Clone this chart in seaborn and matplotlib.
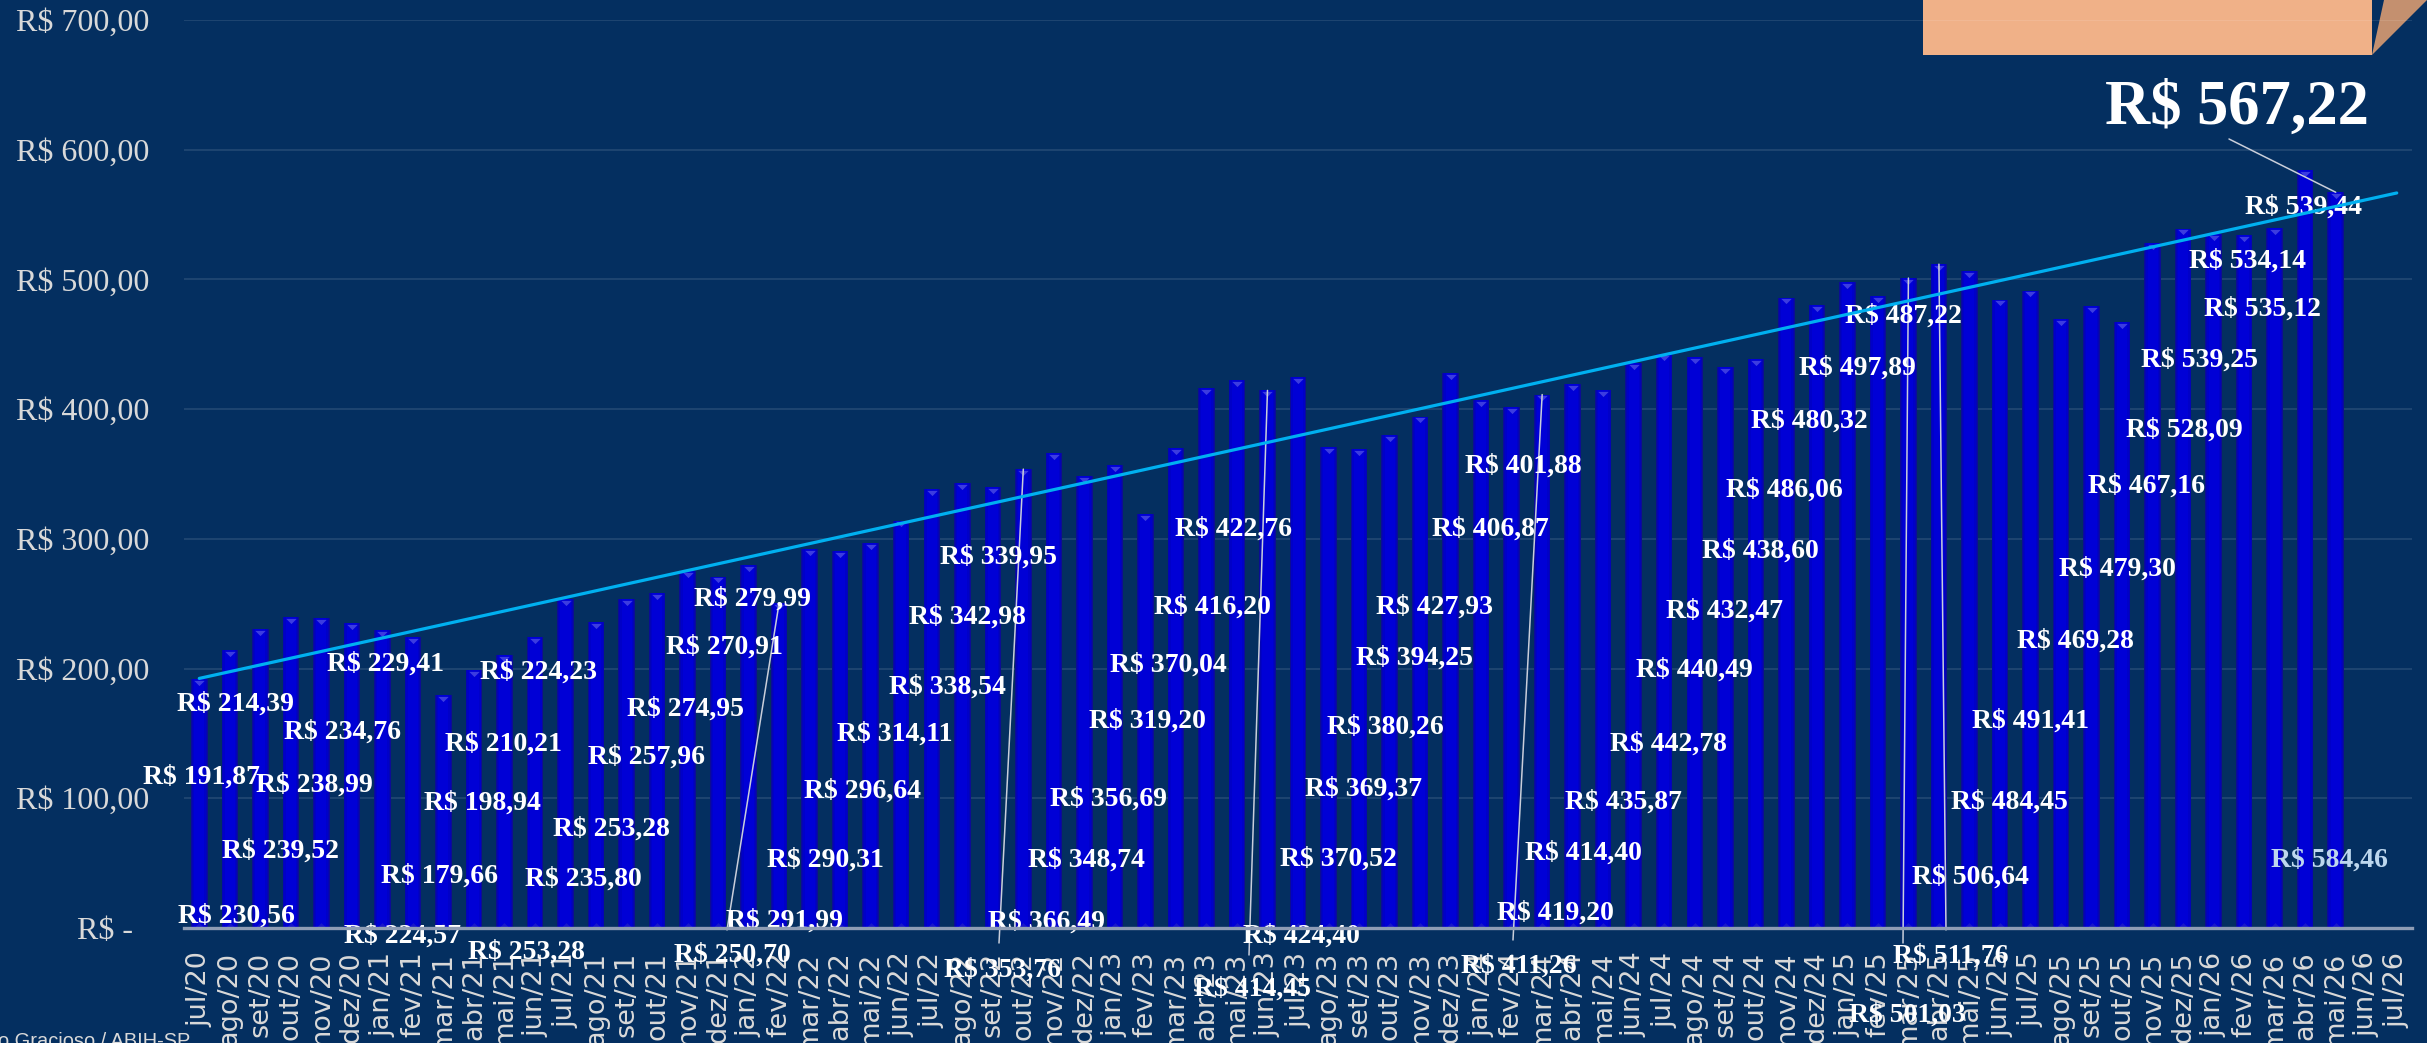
import numpy as np
import pandas as pd
import matplotlib
matplotlib.use("Agg")
import matplotlib.pyplot as plt
from matplotlib.patches import Rectangle, Polygon
import seaborn as sns

# ---- data ----
month_abbr = ["jan", "fev", "mar", "abr", "mai", "jun", "jul", "ago", "set", "out", "nov", "dez"]
months = ["jul/20", "ago/20", "set/20", "out/20", "nov/20", "dez/20"]
for yy in range(21, 26):
    months += [f"{m}/{yy}" for m in month_abbr]
months += ["jan/26", "fev/26", "mar/26", "abr/26", "mai/26", "jun/26", "jul/26"]

prices = [
    191.87, 214.39, 230.56, 239.52, 238.99, 234.76,
    229.41, 224.57, 179.66, 198.94, 210.21, 224.23, 253.28, 235.80, 253.28, 257.96, 274.95, 270.91,
    279.99, 250.70, 291.99, 290.31, 296.64, 314.11, 338.54, 342.98, 339.95, 353.76, 366.49, 348.74,
    356.69, 319.20, 370.04, 416.20, 422.76, 414.45, 424.40, 370.52, 369.37, 380.26, 394.25, 427.93,
    406.87, 401.88, 411.26, 419.20, 414.40, 435.87, 442.78, 440.49, 432.47, 438.60, 486.06, 480.32,
    497.89, 487.22, 501.03, 511.76, 506.64, 484.45, 491.41, 469.28, 479.30, 467.16, 528.09, 539.25,
    535.12, 534.14, 539.44, 584.46, 567.22,
]
y_ticks = [0, 100, 200, 300, 400, 500, 600, 700]
y_tick_labels = ["R$ -\u00a0\u00a0", "R$ 100,00", "R$ 200,00", "R$ 300,00", "R$ 400,00",
                 "R$ 500,00", "R$ 600,00", "R$ 700,00"]
source_text = "o Gracioso / ABIH-SP"

# ---- layout of the misplaced data labels (pixel centres, in the 1568-wide view) ----
label_xy = [
    (130, 500), (152, 453), (153, 590), (181, 548), (203, 505), (221, 471),
    (249, 427), (260, 603), (284, 564), (312, 517), (325, 479), (348, 432), (395, 534), (377, 566),
    (340, 613), (418, 487), (443, 456), (468, 416), (486, 385), (473, 615), (507, 593), (533, 554),
    (557, 509), (578, 472), (612, 442), (625, 397), (645, 358), (648, 625), (676, 594), (702, 554),
    (716, 514), (741, 464), (755, 428), (783, 390), (797, 340), (809, 637), (841, 603), (865, 553),
    (881, 508), (895, 468), (914, 423), (927, 390), (963, 340), (984, 299), (981, 622), (1005, 588),
    (1023, 549), (1049, 516), (1078, 479), (1095, 431), (1114, 393), (1137, 354), (1153, 315),
    (1169, 270), (1200, 236), (1230, 202), (1232, 654), (1260, 616), (1273, 565), (1298, 516),
    (1312, 464), (1341, 412), (1368, 366), (1387, 312), (1411, 276), (1421, 231), (1462, 198),
    (1452, 167), (1488, 132), (1505, 554), (1445, 66),
]
# leader lines: bar index -> start pixel in the full-size image
leaders = {19: (727, 930), 27: (999, 943), 35: (1249, 955), 44: (1513, 940),
           56: (1903, 943), 57: (1946, 930), 70: (2229, 139)}

W, H = 2427, 1043
BG = "#042F60"
SERIF = "Liberation Serif"

sns.set_theme(style="white")
plt.rcParams["font.family"] = [SERIF, "DejaVu Sans"]

fig = plt.figure(figsize=(W / 100, H / 100), dpi=100, facecolor=BG)
L, R, T, B = 184, 2412, 20, 928
ax = fig.add_axes([L / W, 1 - B / H, (R - L) / W, (B - T) / H], facecolor=BG)
ax.patch.set_alpha(0)

df = pd.DataFrame({"month": months[:len(prices)], "price": prices})

# bars: layered widths give the rounded (dark edge, bright centre) look
for width, col in [(0.54, "#0C0C96"), (0.49, "#0404B4"), (0.43, "#0000C8"), (0.33, "#0000D6")]:
    sns.barplot(data=df, x="month", y="price", order=months, color=col, width=width,
                saturation=1, linewidth=0, edgecolor="none", ax=ax, zorder=3, legend=False)

# top facet and faint base facet of each bar (flat triangles)
top_facet = [(-1, 0.5), (1, 0.5), (0, -0.5)]
base_facet = [(-1, -0.5), (1, -0.5), (0, 0.5)]
sns.scatterplot(x=df["month"], y=df["price"] - 3.0, marker=top_facet, s=56, color="#3C3CE0",
                linewidth=0, ax=ax, zorder=4, legend=False)
sns.scatterplot(x=df["month"], y=np.full(len(df), 2.0), marker=base_facet, s=50, color="#1818C8",
                linewidth=0, ax=ax, zorder=4, legend=False)

# linear trend line with forward forecast to the end of the axis
idx = np.arange(len(prices))
slope, intercept = np.polyfit(idx, prices, 1)
trend = intercept + slope * np.arange(len(months))
sns.lineplot(x=months, y=trend, sort=False, color="#00B0F0", lw=2.3, ax=ax, zorder=7,
             legend=False)

ax.set_xlim(-0.5, len(months) - 0.5)
ax.set_ylim(0, 700)
ax.set_xlabel("")
ax.set_ylabel("")
for s in ["top", "left", "right"]:
    ax.spines[s].set_visible(False)
ax.spines["bottom"].set_color("#8F9DB5")
ax.spines["bottom"].set_linewidth(2.4)
ax.spines["bottom"].set_zorder(6)

ax.set_yticks(y_ticks)
ax.set_yticklabels(y_tick_labels, fontsize=23, color="#D9D9D9", family=SERIF)
ax.tick_params(axis="y", length=0, pad=25)
ax.set_xticks(range(len(months)))
ax.set_xticklabels(months, rotation=90, fontsize=19.5, color="#D9D9D9", family="DejaVu Sans")
ax.tick_params(axis="x", length=0, pad=17)
ax.set_axisbelow(True)
ax.yaxis.grid(True, color="white", alpha=0.1, lw=1.5, zorder=2)
ax.xaxis.grid(False)

# peach box cropped by the top edge
fig.patches.append(Rectangle((1923 / W, 1 - 55 / H), (2372 - 1923) / W, 56 / H,
                             transform=fig.transFigure, facecolor="#F0B188", edgecolor="none", zorder=-2))
fig.patches.append(Polygon([(2372 / W, 1 - 55 / H), (2384 / W, 1), (2427 / W, 1)], closed=True,
                           transform=fig.transFigure, facecolor="#C4906F", edgecolor="none", zorder=-2))

# data labels
def brl(v):
    return "R$ " + f"{v:.2f}".replace(".", ",")

S = W / 1568
for i, (v, (px, py)) in enumerate(zip(prices, label_xy)):
    fs, col, dy = 20, "white", 2
    if i == 70:
        fs, dy = 45, 4
    if i == 69:
        col = "#BDD7EE"
    ax.text(px * S / W, 1 - (py + dy) * S / H, brl(v), transform=fig.transFigure, ha="center", va="center",
            fontsize=fs, fontweight="bold", color=col, family=SERIF, zorder=6, clip_on=False)

for i, (px, py) in leaders.items():
    ax.annotate("", xy=(i, prices[i]), xycoords="data", xytext=(px / W, 1 - py / H),
                textcoords="figure fraction", zorder=5, annotation_clip=False,
                arrowprops=dict(arrowstyle="-", color="#C9CEDA", lw=1.1, shrinkA=0, shrinkB=0))

fig.text(-2 / W, 1 - 1047 / H, source_text, fontsize=14.4, color="#D9D9D9",
         family="Liberation Sans", ha="left", va="baseline")

fig.savefig("out.png", dpi=100, facecolor=BG)
